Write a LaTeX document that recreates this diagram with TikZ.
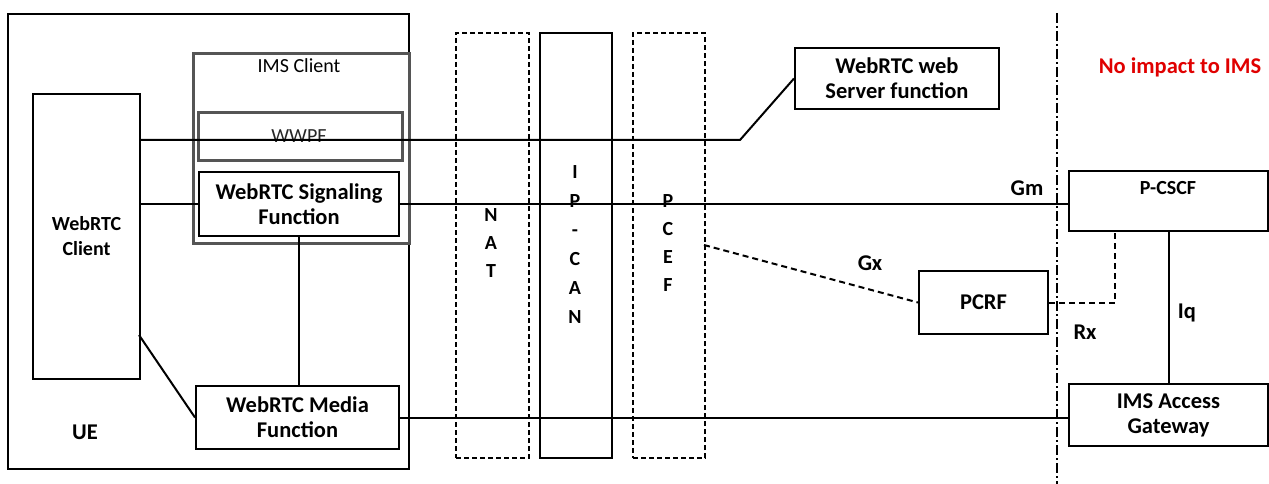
\documentclass[tikz,border=0pt]{standalone}
\usepackage{fontspec}
\setmainfont{Carlito}
\usetikzlibrary{calc}
\definecolor{imsgray}{HTML}{555555}
\definecolor{noimp}{HTML}{E00000}
\begin{document}
\begin{tikzpicture}[x=1pt,y=-1pt,
  every node/.style={font=\fontsize{20}{25}\selectfont},
  box/.style={draw=black, line width=2pt, inner sep=0pt, anchor=north west, align=center, font=\fontsize{22.5}{25}\selectfont\bfseries},
  graybox/.style={draw=imsgray, line width=3pt, inner sep=0pt, anchor=north west},
  dbox/.style={draw=black, line width=2pt, dash pattern=on 5pt off 3pt, inner sep=0pt, anchor=north west},
  conn/.style={draw=black, line width=2pt},
  dconn/.style={draw=black, line width=2pt, dash pattern=on 6pt off 4pt},
  sep/.style={draw=black, line width=2pt, dash pattern=on 10pt off 3pt on 2pt off 3pt},
  lbl/.style={font=\fontsize{22.5}{25}\selectfont\bfseries, inner sep=0pt},
  col/.style={font=\fontsize{20}{28}\selectfont\bfseries, align=center, inner sep=0pt}
]
\useasboundingbox (0,0) rectangle (1269,484);
\fill[white] (0,0) rectangle (1269,484);
% UE container
\node[box, minimum width=401pt, minimum height=455pt] (ue) at (7,13) {};
\node[lbl] (uelbl) at (85,432) {UE};
% IMS client
\node[graybox, minimum width=216pt, minimum height=190pt] (ims) at (192,52) {};
\node[inner sep=0pt] (imslbl) at (299,66) {IMS Client};
\node[graybox, minimum width=204pt, minimum height=48pt] (wwpf) at (197,111) {};
\node[inner sep=0pt, text=black!85] (wwpflbl) at (299,136) {WWPF};
\node[box, minimum width=200pt, minimum height=64pt] (sig) at (198,171) {WebRTC Signaling\\Function};
\node[box, minimum width=107pt, minimum height=285pt, font=\fontsize{20}{25}\selectfont\bfseries] (client) at (32,93) {WebRTC\\Client};
\node[box, minimum width=203pt, minimum height=63pt] (media) at (195,385) {WebRTC Media\\Function};
% network columns
\node[dbox, minimum width=73pt, minimum height=425pt] (nat) at (455,32) {};
\node[col] (natlbl) at (491,243) {N\\A\\T};
\node[box, minimum width=72pt, minimum height=425pt] (ipcan) at (539,32) {};
\node[col, font=\fontsize{20}{29}\selectfont\bfseries] (ipcanlbl) at (575,245) {I\\P\\-\\C\\A\\N};
\node[dbox, minimum width=72pt, minimum height=425pt] (pcef) at (632,32) {};
\node[col] (pceflbl) at (668,243) {P\\C\\E\\F};
% server side
\node[box, minimum width=204pt, minimum height=61pt] (web) at (794,47) {WebRTC web\\Server function};
\node[box, minimum width=129pt, minimum height=63pt] (pcrf) at (918,270) {PCRF};
\node[box, minimum width=199pt, minimum height=60pt] (pcscf) at (1068,170) {};
\node[lbl, font=\fontsize{20}{25}\selectfont\bfseries] (pcscflbl) at (1168,188) {P-CSCF};
\node[box, minimum width=199pt, minimum height=62pt] (agw) at (1068,383) {IMS Access\\Gateway};
\node[lbl, text=noimp] (noimp) at (1180,67) {No impact to IMS};
% separator
\coordinate (septop) at (1057,13);
\coordinate (sepbot) at (1057,484);
\draw[sep] (septop) -- (sepbot);
% connectors
\coordinate (wbend) at (740,140);
\draw[conn] (client.east |- wbend) -- (wbend) -- (web.west);
\draw[conn] (client.east |- sig.west) -- (sig.west);
\draw[conn] (sig.east) -- (sig.east -| pcscf.west);
\node[lbl] (gm) at (1027,188) {Gm};
\coordinate (cm) at (139,335);
\draw[conn] (cm) -- (media.west);
\draw[conn] (media.east) -- (media.east -| agw.west);
\draw[conn] (sig.south) -- (sig.south |- media.north);
\coordinate (gxs) at (704,245);
\draw[dconn] (gxs) -- (pcrf.west);
\node[lbl] (gx) at (870,263) {Gx};
\coordinate (rxc) at (1115,0);
\draw[dconn] (pcrf.east) -| (rxc |- pcscf.south);
\node[lbl] (rx) at (1085,332) {Rx};
\draw[conn] (pcscf.south) -- (pcscf.south |- agw.north);
\node[lbl] (iq) at (1187,313) {Iq};
\end{tikzpicture}
\end{document}
